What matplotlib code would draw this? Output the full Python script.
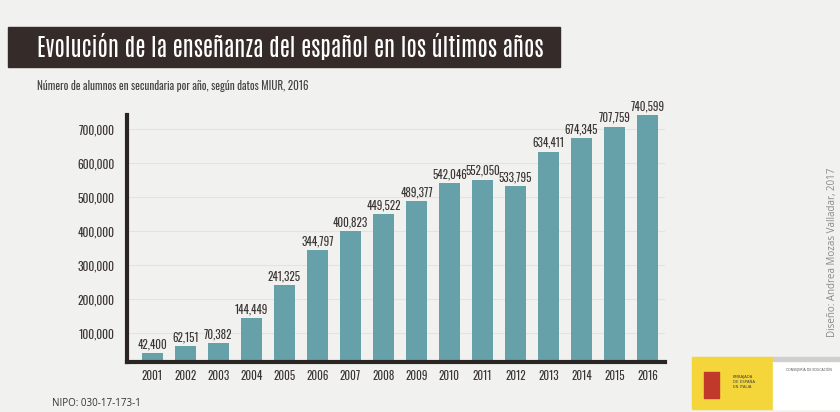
import matplotlib.pyplot as plt
from matplotlib.patches import Rectangle
from matplotlib import font_manager

# Datos: alumnos de español en secundaria (MIUR, 2016)
anios = ['2001', '2002', '2003', '2004', '2005', '2006', '2007', '2008',
         '2009', '2010', '2011', '2012', '2013', '2014', '2015', '2016']
alumnos = [42400, 62151, 70382, 144449, 241325, 344797, 400823, 449522,
           489377, 542046, 552050, 533795, 634411, 674345, 707759, 740599]
ticks_y = [100000, 200000, 300000, 400000, 500000, 600000, 700000]

titulo = 'Evolución de la enseñanza del español en los últimos años'
subtitulo = 'Número de alumnos en secundaria por año, según datos MIUR, 2016'

# fuente estrecha si hay alguna instalada
nombres = {f.name for f in font_manager.fontManager.ttflist}
def elegir(prefs):
    for p in prefs:
        if p in nombres:
            return p
    return 'DejaVu Sans'

narrow = elegir(['Oswald', 'Roboto Condensed', 'Antonio', 'Archivo Narrow',
                 'PT Sans Narrow', 'Open Sans Condensed', 'Liberation Sans Narrow'])
titulo_f = elegir(['Antonio', 'Oswald', 'Roboto Condensed', 'Archivo Narrow'])
texto_f = elegir(['Open Sans', 'Noto Sans'])

fondo = '#f1f1f0'
barra = '#66a1a9'
oscuro = '#3b3633'

fig = plt.figure(figsize=(8.4, 4.12), dpi=100, facecolor=fondo)
ax = fig.add_axes([0.1512, 0.1214, 0.6405, 0.5995])
ax.set_facecolor(fondo)

x = range(len(anios))
ax.bar(x, alumnos, width=0.64, color=barra, zorder=2)
for i, v in enumerate(alumnos):
    ax.text(i, v + 8000, f'{v:,}', ha='center', va='bottom', fontsize=8,
            family=narrow, fontweight='medium', color=oscuro, clip_on=False)

ax.set_xlim(-0.77, 15.53)
ax.set_ylim(15000, 742000)
ax.set_xticks(list(x))
ax.set_xticklabels(anios, family=narrow, fontsize=8, color=oscuro)
ax.set_yticks(ticks_y)
ax.set_yticklabels([f'{t:,}' for t in ticks_y], family=narrow, fontsize=8.3, color=oscuro)
ax.tick_params(length=0, pad=6)
ax.tick_params(axis='y', pad=9)
ax.grid(axis='y', color='#e3e3e3', linewidth=0.8, zorder=0)

for s in ['top', 'right']:
    ax.spines[s].set_visible(False)
for s in ['left', 'bottom']:
    ax.spines[s].set_linewidth(3)
    ax.spines[s].set_color('#2a2523')
    ax.spines[s].set_zorder(3)

# Banda del título
fig.patches.append(Rectangle((8 / 840, 1 - 67 / 412), 552 / 840, 40 / 412,
                             transform=fig.transFigure, color='#352c29', zorder=0))
t_tit = fig.text(37 / 840, 1 - 46 / 412, titulo, family=titulo_f, fontsize=20,
                 fontweight='light', color='white', va='center', ha='left')
t_sub = fig.text(37 / 840, 1 - 86 / 412, subtitulo, family=narrow, fontsize=7,
                 fontweight='light', color='#444444', va='center', ha='left')

# ajustar tamaños al ancho del original
r = fig.canvas.get_renderer()
for t, ancho in [(t_tit, 511), (t_sub, 271)]:
    w = t.get_window_extent(r).width
    t.set_fontsize(t.get_fontsize() * ancho / w)

fig.text(833 / 840, 1 - 252 / 412, 'Diseño: Andrea Mozas Valladar, 2017', rotation=90,
         family=texto_f, fontsize=7, color='#8a8a8a', va='center', ha='center')
fig.text(52 / 840, 1 - 403 / 412, 'NIPO: 030-17-173-1', family=texto_f, fontsize=7,
         color='#333333', va='center', ha='left')

# Logo inferior derecho
fig.patches.append(Rectangle((692 / 840, 1 - 409 / 412), 81 / 840, 52 / 412,
                             transform=fig.transFigure, color='#f4d53a', zorder=0))
fig.patches.append(Rectangle((773 / 840, 1 - 409 / 412), 67 / 840, 48 / 412,
                             transform=fig.transFigure, color='white', zorder=0))
fig.patches.append(Rectangle((773 / 840, 1 - 361 / 412), 67 / 840, 4 / 412,
                             transform=fig.transFigure, color='#cfcfcf', zorder=0))
fig.patches.append(Rectangle((704 / 840, 1 - 398 / 412), 15 / 840, 26 / 412,
                             transform=fig.transFigure, color='#c0392b', zorder=1))
fig.text(733 / 840, 1 - 382 / 412, 'EMBAJADA\nDE ESPAÑA\nEN ITALIA', fontsize=2.8,
         color='#444444', va='center', ha='left', linespacing=1.3)
fig.text(786 / 840, 1 - 370 / 412, 'CONSEJERÍA DE EDUCACIÓN', fontsize=2.3,
         color='#555555', va='center', ha='left')

fig.savefig('out.png', dpi=100, facecolor=fondo)
